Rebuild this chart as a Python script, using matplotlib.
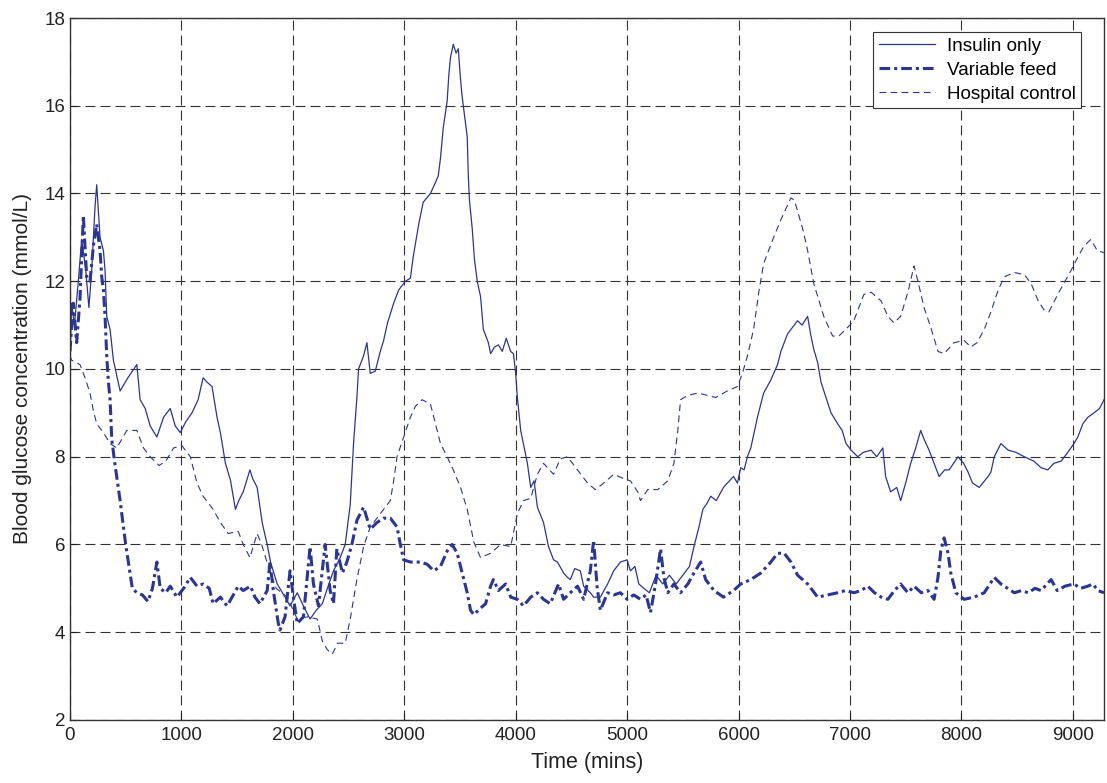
import matplotlib.pyplot as plt

plt.rcParams['font.family'] = ['Liberation Sans', 'DejaVu Sans']

# Insulin only (thin solid)
ins_t = [0, 15, 40, 75, 105, 140, 170, 195, 225, 240, 255, 270, 300, 315, 330, 360, 390,
         450, 520, 600, 630, 675, 720, 780, 840, 900, 945, 990, 1040, 1095, 1150, 1195,
         1230, 1275, 1320, 1350, 1395, 1440, 1485, 1515, 1555, 1615, 1640, 1680, 1725,
         1770, 1800, 1860, 1930, 1975, 2040, 2095, 2155, 2210, 2265, 2310, 2365, 2425,
         2470, 2515, 2545, 2575, 2590, 2635, 2665, 2695, 2740, 2785, 2815, 2850, 2905,
         2950, 3010, 3055, 3080, 3130, 3170, 3235, 3280, 3305, 3325, 3350, 3385, 3400,
         3415, 3440, 3465, 3485, 3505, 3520, 3550, 3565, 3575, 3585, 3610, 3630, 3655,
         3685, 3710, 3755, 3775, 3810, 3845, 3880, 3915, 3955, 3980, 4000, 4015, 4045,
         4105, 4135, 4165, 4195, 4250, 4295, 4340, 4375, 4430, 4465, 4490, 4530, 4580,
         4610, 4670, 4700, 4760, 4825, 4880, 4940, 5000, 5030, 5070, 5105, 5150, 5200,
         5260, 5320, 5380, 5440, 5500, 5560, 5600, 5645, 5680, 5720, 5750, 5800, 5865,
         5900, 5955, 5990, 6020, 6050, 6080, 6110, 6170, 6225, 6290, 6350, 6380, 6440,
         6470, 6530, 6570, 6620, 6650, 6675, 6710, 6740, 6785, 6830, 6890, 6930, 6965,
         7010, 7070, 7120, 7190, 7240, 7295, 7320, 7365, 7420, 7455, 7500, 7545, 7590,
         7635, 7665, 7710, 7755, 7800, 7850, 7890, 7930, 7970, 8020, 8060, 8100, 8160,
         8240, 8265, 8295, 8355, 8420, 8490, 8565, 8650, 8715, 8775, 8830, 8895, 8955,
         9010, 9045, 9090, 9135, 9190, 9240, 9280]
ins_y = [10.1, 11.5, 11.0, 12.0, 12.95, 12.3, 11.4, 12.25, 13.7, 14.2, 13.6, 13.0, 12.7,
         12.25, 11.2, 10.9, 10.2, 9.5, 9.8, 10.1, 9.3, 9.1, 8.7, 8.45, 8.9, 9.1, 8.7, 8.55,
         8.8, 9.0, 9.3, 9.8, 9.7, 9.6, 8.9, 8.55, 7.85, 7.47, 6.8, 7.0, 7.2, 7.7, 7.5, 7.3,
         6.5, 6.0, 5.6, 5.1, 4.8, 4.6, 4.9, 4.6, 4.3, 4.5, 4.65, 5.0, 5.4, 5.7, 6.0, 6.9,
         8.3, 9.35, 10.0, 10.3, 10.6, 9.9, 9.95, 10.4, 10.65, 11.05, 11.5, 11.8, 12.0,
         12.07, 12.55, 13.3, 13.8, 14.0, 14.25, 14.4, 14.8, 15.5, 16.1, 16.7, 17.1, 17.4,
         17.2, 17.3, 16.6, 16.2, 15.6, 15.3, 14.4, 13.85, 13.2, 12.5, 12.0, 11.65, 10.9,
         10.6, 10.35, 10.5, 10.55, 10.4, 10.7, 10.4, 10.35, 9.9, 9.35, 8.6, 7.85, 7.3,
         7.45, 6.85, 6.5, 5.95, 5.65, 5.6, 5.35, 5.25, 5.2, 5.45, 5.4, 5.05, 4.9, 4.8,
         4.8, 5.1, 5.4, 5.6, 5.65, 5.4, 5.5, 5.1, 5.0, 4.9, 5.3, 5.1, 5.3, 5.1, 5.3, 5.5,
         5.95, 6.4, 6.8, 6.95, 7.1, 7.0, 7.3, 7.4, 7.55, 7.4, 7.75, 7.7, 8.0, 8.2, 8.9,
         9.45, 9.75, 10.1, 10.4, 10.8, 10.9, 11.1, 11.0, 11.2, 10.75, 10.45, 10.15, 9.7,
         9.35, 9.0, 8.75, 8.6, 8.3, 8.15, 8.0, 8.1, 8.15, 8.0, 8.2, 7.55, 7.2, 7.3, 7.0,
         7.4, 7.85, 8.2, 8.6, 8.4, 8.15, 7.85, 7.55, 7.7, 7.7, 7.85, 8.0, 7.85, 7.65, 7.4,
         7.3, 7.55, 7.65, 8.0, 8.3, 8.15, 8.1, 8.0, 7.9, 7.75, 7.7, 7.85, 7.9, 8.1, 8.3,
         8.45, 8.75, 8.9, 9.0, 9.1, 9.3]

# Variable feed (thick dash-dot)
vf_t = [0, 30, 60, 90, 120, 135, 150, 180, 210, 240, 255, 270, 285, 300, 315, 330, 345,
        360, 375, 400, 450, 500, 530, 560, 600, 650, 700, 740, 780, 810, 860, 900, 960,
        1020, 1080, 1140, 1195, 1250, 1285, 1350, 1410, 1455, 1510, 1555, 1620, 1660,
        1705, 1770, 1795, 1825, 1870, 1885, 1930, 1975, 2005, 2040, 2095, 2155, 2185,
        2230, 2290, 2335, 2365, 2395, 2445, 2485, 2530, 2575, 2635, 2665, 2695, 2755,
        2815, 2875, 2935, 2965, 2995, 3055, 3145, 3205, 3265, 3325, 3385, 3430, 3475,
        3520, 3565, 3595, 3625, 3685, 3730, 3775, 3800, 3845, 3910, 3955, 4015, 4070,
        4135, 4195, 4250, 4310, 4385, 4430, 4490, 4555, 4610, 4670, 4700, 4730, 4760,
        4825, 4880, 4940, 5000, 5060, 5120, 5170, 5210, 5255, 5300, 5330, 5365, 5420,
        5480, 5545, 5600, 5660, 5705, 5780, 5865, 5955, 6020, 6110, 6200, 6290, 6350,
        6410, 6470, 6530, 6620, 6710, 6800, 6890, 6960, 7035, 7100, 7160, 7220, 7280,
        7340, 7400, 7455, 7520, 7575, 7640, 7700, 7755, 7790, 7815, 7845, 7880, 7905,
        7950, 8025, 8115, 8205, 8295, 8355, 8415, 8475, 8540, 8600, 8660, 8715, 8805,
        8860, 8930, 9010, 9070, 9135, 9180, 9225, 9280]
vf_y = [10.4, 11.5, 10.6, 11.6, 13.5, 12.8, 12.1, 12.0, 12.8, 13.3, 13.0, 12.7, 12.1,
        11.8, 11.2, 10.3, 9.7, 9.3, 8.4, 7.9, 7.0, 6.0, 5.5, 5.0, 4.9, 4.85, 4.7, 5.0,
        5.6, 5.0, 4.9, 5.05, 4.8, 5.0, 5.25, 5.05, 5.1, 5.0, 4.65, 4.8, 4.6, 4.8, 5.05,
        4.95, 5.05, 4.8, 4.65, 4.95, 5.6, 4.95, 4.2, 4.05, 4.35, 5.4, 4.8, 4.2, 4.35,
        5.95, 5.1, 4.6, 6.0, 4.95, 4.65, 5.9, 5.35, 5.6, 6.0, 6.55, 6.85, 6.6, 6.35, 6.5,
        6.6, 6.6, 6.4, 6.0, 5.65, 5.6, 5.6, 5.55, 5.4, 5.5, 5.85, 6.0, 5.8, 5.35, 4.9,
        4.5, 4.4, 4.55, 4.65, 5.05, 5.2, 4.95, 5.1, 4.8, 4.75, 4.6, 4.8, 4.9, 4.75, 4.65,
        5.1, 4.75, 4.9, 5.05, 4.75, 5.4, 6.1, 5.05, 4.5, 4.9, 4.85, 4.9, 4.75, 4.85,
        4.75, 4.85, 4.45, 5.1, 5.9, 5.25, 4.9, 5.1, 4.9, 5.1, 5.35, 5.6, 5.2, 4.95, 4.8,
        4.95, 5.1, 5.2, 5.35, 5.6, 5.8, 5.8, 5.6, 5.3, 5.1, 4.8, 4.85, 4.9, 4.95, 4.9,
        4.95, 5.05, 4.9, 4.8, 4.75, 4.95, 5.1, 4.9, 5.05, 4.9, 4.95, 4.75, 5.25, 5.85,
        6.15, 5.8, 5.35, 4.9, 4.75, 4.8, 4.9, 5.25, 5.1, 5.0, 4.9, 4.95, 4.9, 5.0, 4.95,
        5.2, 4.95, 5.05, 5.1, 5.0, 5.05, 5.1, 4.95, 4.9]

# Hospital control (thin dashed)
hc_t = [0, 15, 90, 135, 180, 210, 240, 300, 360, 420, 510, 600, 660, 720, 800, 860, 930,
        1005, 1080, 1140, 1195, 1285, 1350, 1420, 1510, 1555, 1615, 1680, 1720, 1780,
        1850, 1950, 2040, 2130, 2220, 2265, 2310, 2355, 2400, 2470, 2515, 2575, 2635,
        2695, 2815, 2875, 2905, 2935, 2995, 3055, 3100, 3160, 3235, 3265, 3325, 3385,
        3440, 3505, 3565, 3625, 3685, 3775, 3865, 3955, 4015, 4070, 4135, 4195, 4250,
        4340, 4400, 4465, 4555, 4645, 4715, 4790, 4880, 4970, 5030, 5095, 5120, 5185,
        5275, 5365, 5420, 5455, 5480, 5545, 5635, 5720, 5795, 5900, 5990, 6035, 6080,
        6135, 6185, 6225, 6315, 6380, 6470, 6500, 6530, 6575, 6620, 6675, 6765, 6845,
        6900, 6980, 7035, 7125, 7190, 7280, 7340, 7395, 7455, 7520, 7575, 7610, 7665,
        7725, 7790, 7845, 7935, 8025, 8085, 8140, 8205, 8265, 8330, 8385, 8475, 8565,
        8625, 8690, 8740, 8785, 8865, 8920, 8985, 9045, 9100, 9160, 9220, 9280]
hc_y = [10.3, 10.2, 10.1, 9.8, 9.45, 9.05, 8.75, 8.55, 8.3, 8.2, 8.6, 8.6, 8.2, 8.0, 7.8,
        7.9, 8.2, 8.25, 8.0, 7.4, 7.1, 6.8, 6.5, 6.25, 6.3, 6.0, 5.7, 6.25, 6.0, 5.5, 5.0,
        4.8, 4.3, 4.35, 4.3, 3.8, 3.6, 3.5, 3.75, 3.75, 4.3, 5.2, 5.95, 6.4, 6.8, 7.0,
        7.45, 8.0, 8.45, 8.9, 9.15, 9.3, 9.2, 8.9, 8.3, 8.0, 7.7, 7.3, 6.8, 6.05, 5.7,
        5.8, 6.0, 5.95, 6.7, 7.0, 7.05, 7.6, 7.85, 7.6, 7.95, 8.0, 7.7, 7.4, 7.25, 7.4,
        7.6, 7.5, 7.45, 7.2, 7.0, 7.25, 7.25, 7.45, 7.85, 8.6, 9.3, 9.4, 9.45, 9.4, 9.35,
        9.5, 9.6, 9.9, 10.3, 10.9, 11.8, 12.4, 13.0, 13.4, 13.9, 13.85, 13.6, 13.2, 12.7,
        11.95, 11.2, 10.75, 10.75, 10.95, 11.1, 11.7, 11.75, 11.55, 11.2, 11.05, 11.2,
        11.75, 12.35, 12.0, 11.4, 10.95, 10.4, 10.35, 10.6, 10.65, 10.5, 10.6, 10.9,
        11.3, 11.8, 12.1, 12.2, 12.15, 11.95, 11.55, 11.35, 11.3, 11.7, 11.95, 12.25,
        12.55, 12.8, 12.95, 12.7, 12.65]

navy = '#2b3592'

fig = plt.figure(figsize=(11.07, 7.83), dpi=100)
ax = fig.add_axes([0.0632, 0.0805, 0.9341, 0.8965])

ax.plot(ins_t, ins_y, color=navy, lw=0.9, label='Insulin only')
ax.plot(vf_t, vf_y, color=navy, lw=2.2, linestyle=(0, (3.5, 1.3, 1.0, 1.3)),
        label='Variable feed')
ax.plot(hc_t, hc_y, color=navy, lw=0.8, linestyle=(0, (6, 4)), label='Hospital control')

ax.set_xlim(0, 9280)
ax.set_ylim(2, 18)
ax.set_xticks(range(0, 9001, 1000))
ax.set_yticks(range(2, 19, 2))
ax.grid(True, color='#333333', lw=0.8, linestyle=(0, (9, 4.5)))
ax.tick_params(direction='in', length=5, labelsize=13.5, colors='#222222', width=0.8)
ax.tick_params(axis='x', pad=5)
for s in ax.spines.values():
    s.set_color('#333333')
    s.set_linewidth(1.0)

ax.set_xlabel('Time (mins)', fontsize=15.5, color='#222222', labelpad=6)
ax.set_ylabel('Blood glucose concentration (mmol/L)', fontsize=15, color='#222222', labelpad=9)

leg = ax.legend(loc='upper right', bbox_to_anchor=(0.978, 0.98), fontsize=13.6,
                fancybox=False, framealpha=1, edgecolor='#333333',
                handlelength=3.0, borderpad=0.3, labelspacing=0.35, handletextpad=0.6,
                borderaxespad=0.0)
leg.get_frame().set_linewidth(0.8)

fig.savefig('out.png', dpi=100)
